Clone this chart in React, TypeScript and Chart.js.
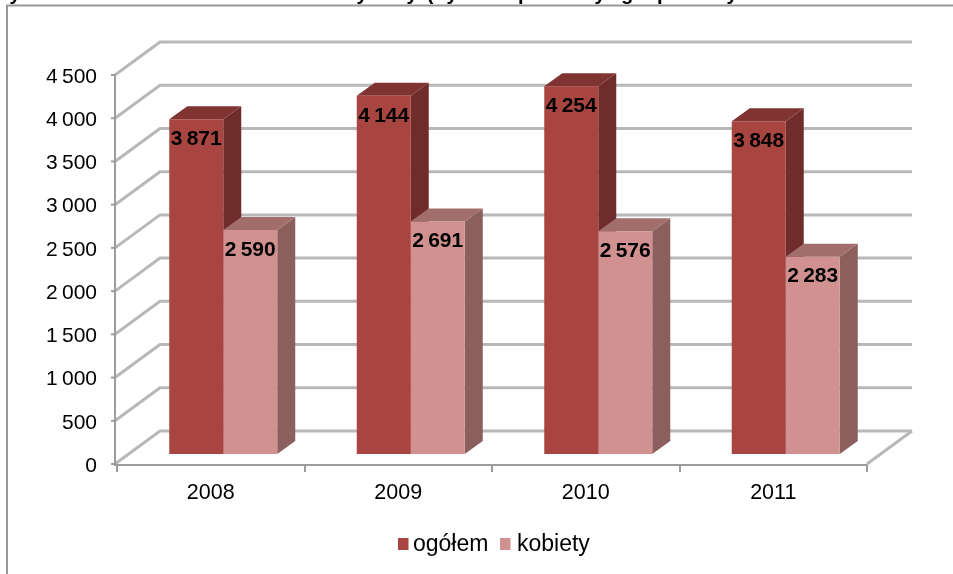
import React, { useEffect, useRef } from "react";
import { Chart, registerables } from "chart.js";

Chart.register(...registerables);

const categories = ["2008", "2009", "2010", "2011"];
const ogolem = [3871, 4144, 4254, 3848];
const kobiety = [2590, 2691, 2576, 2283];
const seriesNames = ["ogółem", "kobiety"];
const frontColors = ["#A94541", "#D09190"];
const sideColors = ["#6F2C2A", "#8B5F5E"];
const topColors = ["#7F3431", "#A26E6C"];
// Only the descenders of the cropped title are visible in the picture.
const titleGlyphs = ["y", "y", "y", "(", "y", "p", "y", "g", "p", "y"];
const titleGlyphX = [15, 362, 412, 430, 452, 524, 600, 627, 663, 732];

const FONT = '"Liberation Sans", Arial, sans-serif';
const GRID = "#B8B8B8";
const AXIS = "#9C9C9C";
const fmt = (v: number) => {
  const s = String(v);
  return s.length > 3 ? s.slice(0, -3) + "\u2009" + s.slice(-3) : s;
};

const WALL = { x: 45, y: -33 };
const BAR_SHIFT = { x: 12.5, y: -10 };
const BAR_DEPTH = { x: 18, y: -13 };

const poly = (ctx: CanvasRenderingContext2D, pts: number[][], color: string) => {
  ctx.fillStyle = color;
  ctx.beginPath();
  pts.forEach((p, i) => (i ? ctx.lineTo(p[0], p[1]) : ctx.moveTo(p[0], p[1])));
  ctx.closePath();
  ctx.fill();
};

const scene3d = {
  id: "scene3d",
  beforeDraw(chart: any) {
    const { ctx, width, height } = chart;
    ctx.save();
    ctx.fillStyle = "#fff";
    ctx.fillRect(0, 0, width, height);
    ctx.fillStyle = "#000";
    ctx.font = `bold 20px ${FONT}`;
    ctx.textAlign = "center";
    ctx.textBaseline = "alphabetic";
    titleGlyphs.forEach((g, i) => ctx.fillText(g, titleGlyphX[i], 0));
    ctx.strokeStyle = "#989898";
    ctx.lineWidth = 2;
    ctx.beginPath();
    ctx.moveTo(7, height);
    ctx.lineTo(7, 5.5);
    ctx.lineTo(width, 5.5);
    ctx.stroke();
    ctx.restore();
  },
  beforeDatasetsDraw(chart: any) {
    const { ctx, chartArea: a } = chart;
    const y = chart.scales.y;
    const x0 = a.left - 2;
    ctx.save();
    ctx.lineWidth = 3;
    ctx.strokeStyle = GRID;
    y.ticks.forEach((t: any) => {
      const py = y.getPixelForValue(t.value);
      ctx.beginPath();
      ctx.moveTo(x0, py);
      ctx.lineTo(x0 + WALL.x, py + WALL.y);
      ctx.lineTo(a.right + WALL.x, py + WALL.y);
      ctx.stroke();
    });
    ctx.beginPath();
    ctx.moveTo(a.right, a.bottom);
    ctx.lineTo(a.right + WALL.x, a.bottom + WALL.y);
    ctx.stroke();

    ctx.strokeStyle = AXIS;
    ctx.lineWidth = 2;
    ctx.beginPath();
    ctx.moveTo(x0, y.getPixelForValue(4500));
    ctx.lineTo(x0, a.bottom + 1);
    ctx.lineTo(a.right, a.bottom + 1);
    ctx.stroke();
    y.ticks.forEach((t: any) => {
      const py = y.getPixelForValue(t.value);
      ctx.beginPath();
      ctx.moveTo(x0 - 4, py);
      ctx.lineTo(x0, py);
      ctx.stroke();
    });

    ctx.translate(BAR_SHIFT.x, BAR_SHIFT.y);
    chart.data.datasets.forEach((_: any, di: number) => {
      chart.getDatasetMeta(di).data.forEach((b: any) => {
        const p = b.getProps(["x", "y", "base", "width"]);
        const l = p.x - p.width / 2;
        const r = p.x + p.width / 2;
        poly(ctx, [[r, p.y], [r + BAR_DEPTH.x, p.y + BAR_DEPTH.y], [r + BAR_DEPTH.x, p.base + BAR_DEPTH.y], [r, p.base]], sideColors[di]);
        poly(ctx, [[l, p.y], [l + BAR_DEPTH.x, p.y + BAR_DEPTH.y], [r + BAR_DEPTH.x, p.y + BAR_DEPTH.y], [r, p.y]], topColors[di]);
      });
    });
    // The library draws the front faces next, inside this same shift.
  },
  afterDatasetsDraw(chart: any) {
    const { ctx } = chart;
    ctx.restore();
    ctx.save();
    ctx.translate(BAR_SHIFT.x, BAR_SHIFT.y);
    ctx.fillStyle = "#000";
    ctx.font = `bold 21px ${FONT}`;
    ctx.textAlign = "center";
    ctx.textBaseline = "middle";
    chart.data.datasets.forEach((ds: any, di: number) => {
      chart.getDatasetMeta(di).data.forEach((b: any, i: number) => {
        ctx.fillText(fmt(ds.data[i]), b.x, b.y + 20);
      });
    });
    ctx.restore();
  },
  afterDraw(chart: any) {
    const { ctx } = chart;
    const boxX = [398, 500];
    const textX = [413, 517];
    ctx.save();
    ctx.font = `23px ${FONT}`;
    ctx.textAlign = "left";
    ctx.textBaseline = "middle";
    seriesNames.forEach((n, i) => {
      ctx.fillStyle = frontColors[i];
      ctx.fillRect(boxX[i], 538, 10.5, 12);
      ctx.fillStyle = "#000";
      ctx.fillText(n, textX[i], 545);
    });
    ctx.restore();
  },
};

export default function App() {
  const ref = useRef<HTMLCanvasElement>(null);
  useEffect(() => {
    const chart = new Chart(ref.current!, {
      type: "bar",
      data: {
        labels: categories,
        datasets: [
          { label: seriesNames[0], data: ogolem, backgroundColor: frontColors[0] },
          { label: seriesNames[1], data: kobiety, backgroundColor: frontColors[1] },
        ],
      },
      options: {
        animation: false,
        responsive: false,
        devicePixelRatio: 1,
        layout: { padding: { top: 75, right: 86, bottom: 50, left: 0 } },
        datasets: { bar: { categoryPercentage: 0.576, barPercentage: 1 } },
        plugins: { legend: { display: false }, tooltip: { enabled: false }, title: { display: false } },
        scales: {
          x: {
            grid: { drawOnChartArea: false, color: AXIS, lineWidth: 2, tickLength: 8 },
            border: { display: false },
            ticks: { color: "#000", font: { family: FONT, size: 21.5 }, padding: 8 },
            afterFit: (s: any) => { s.height = 60; },
          },
          y: {
            min: 0,
            max: 4500,
            grid: { display: false },
            border: { display: false },
            ticks: {
              stepSize: 500,
              color: "#000",
              padding: 12,
              labelOffset: 2,
              font: { family: FONT, size: 21 },
              callback: (v: any) => fmt(Number(v)),
            },
            afterFit: (s: any) => { s.width = 117; },
          },
        },
      },
      plugins: [scene3d],
    } as any);
    return () => chart.destroy();
  }, []);
  return (
    <canvas
      ref={ref}
      width={953}
      height={574}
      style={{ position: "absolute", left: 0, top: 0, width: 953, height: 574, filter: "blur(0.7px)" }}
    />
  );
}
